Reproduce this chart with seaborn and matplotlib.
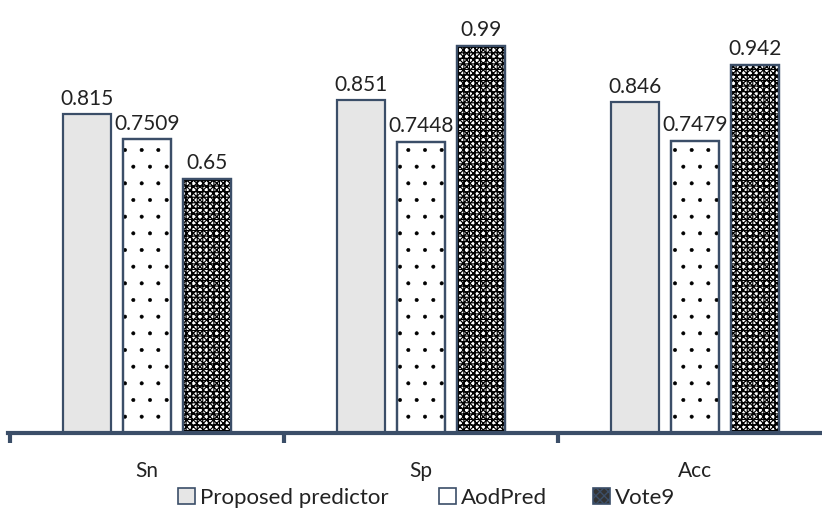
import matplotlib
matplotlib.use("Agg")
import matplotlib.pyplot as plt
from matplotlib.patches import Patch
import seaborn as sns
import pandas as pd

metrics = ["Sn", "Sp", "Acc"]
methods = ["Proposed predictor", "AodPred", "Vote9"]
proposed = [0.815, 0.851, 0.846]
aodpred = [0.7509, 0.7448, 0.7479]
vote9 = [0.65, 0.99, 0.942]
label_text = [["0.815", "0.851", "0.846"],
              ["0.7509", "0.7448", "0.7479"],
              ["0.65", "0.99", "0.942"]]

df = pd.DataFrame({
    "metric": metrics * 3,
    "method": [m for m in methods for _ in metrics],
    "value": proposed + aodpred + vote9,
})

sns.set_theme(style="white")
plt.rcParams["font.family"] = ["Lato", "DejaVu Sans"]

edge = "#3B4E68"
faces = ["#E6E6E6", "white", "white"]
hatches = [None, ".", "+++xxxxx"]
hatch_lw = [None, 0.4, 0.85]

fig = plt.figure(figsize=(8.22, 5.08), dpi=100)
ax = fig.add_axes([8 / 822, 75 / 508, 814 / 822, 433 / 508])

sns.barplot(data=df, x="metric", y="value", hue="method", order=metrics,
            hue_order=methods, width=0.657, gap=0.2, legend=False, ax=ax,
            palette=faces, saturation=1)

containers = list(ax.containers)
for i, cont in enumerate(containers):
    for bar in cont:
        bar.set_facecolor(faces[i])
        bar.set_edgecolor(edge)
        bar.set_linewidth(1.6)
        if hatches[i]:
            plt.rcParams["hatch.linewidth"] = hatch_lw[i]
            x, y = bar.get_xy()
            ax.bar(x, bar.get_height(), width=bar.get_width(), bottom=y,
                   align="edge", facecolor="none", edgecolor="black",
                   hatch=hatches[i], linewidth=0, zorder=bar.get_zorder() + 0.1)
            ax.bar(x, bar.get_height(), width=bar.get_width(), bottom=y,
                   align="edge", facecolor="none", edgecolor=edge,
                   linewidth=1.6, zorder=bar.get_zorder() + 0.2)
    ax.bar_label(cont, labels=label_text[i], padding=4, fontsize=15, color="#222222")

ax.set_xlim(-0.507, -0.507 + 814 / 274)
ax.set_ylim(0, 433 / 391)
ax.set_xlabel("")
ax.set_ylabel("")
ax.set_yticks([])
for s in ["left", "top", "right"]:
    ax.spines[s].set_visible(False)
ax.spines["bottom"].set_color(edge)
ax.spines["bottom"].set_linewidth(3)

ax.set_xticks([-0.5, 0.5, 1.5], minor=True)
ax.tick_params(axis="x", which="minor", direction="out", length=7, width=3,
               color=edge, bottom=True)
ax.tick_params(axis="x", which="major", length=0, pad=20, labelsize=15,
               labelcolor="#222222")

# legend entries placed individually along the bottom
plt.rcParams["hatch.linewidth"] = 1.0
handles = [Patch(facecolor=faces[0], edgecolor=edge, linewidth=1.2),
           Patch(facecolor=faces[1], edgecolor=edge, linewidth=1.2),
           Patch(facecolor="#333333", edgecolor=edge, hatch="xxxx", linewidth=1.2)]
legend_x = [178, 439, 593]
for h, name, lx in zip(handles, methods, legend_x):
    fig.legend([h], [name], loc="center left",
               bbox_to_anchor=(lx / 822, 1 - 498 / 508),
               frameon=False, fontsize=16, handlelength=0.75, handleheight=0.75,
               handletextpad=0.25, borderpad=0, borderaxespad=0,
               labelcolor="#222222")

fig.savefig("out.png", dpi=100)
